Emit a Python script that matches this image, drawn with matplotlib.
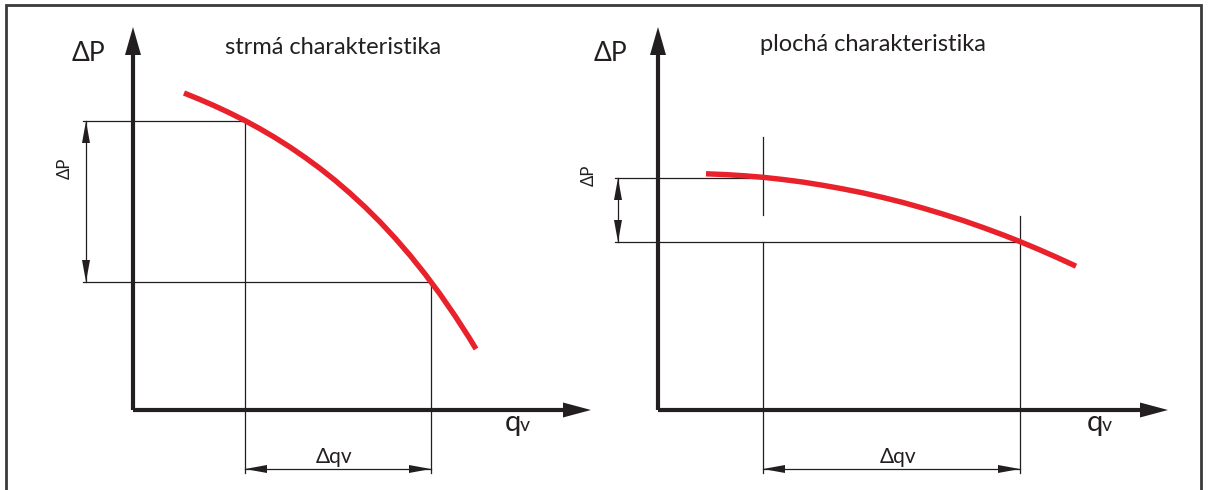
import numpy as np
import matplotlib.pyplot as plt
from matplotlib.patches import Rectangle, Polygon

plt.rcParams['font.family'] = ['Lato', 'DejaVu Sans']

# units = pixels from each panel's origin
# q = flow to the right, dp = pressure upward
steep_q = [51, 66, 81, 96, 112, 127, 142, 157, 172, 187, 202, 217, 232,
           247, 262, 277, 292, 307, 322, 336, 343]
steep_dp = [317.0, 310.9, 304.4, 297.4, 289.4, 281.2, 272.4, 262.9, 252.6, 241.6, 229.7,
            216.8, 203.0, 188.1, 172.0, 154.7, 136.0, 115.9, 94.2, 72.5, 61.0]
steep_pts = [(112, 289), (298, 128)]

flat_q = [48, 68, 88, 105, 125, 145, 165, 185, 205, 225, 245, 265, 285,
          305, 325, 345, 362, 380, 400, 418]
flat_dp = [236.2, 235.4, 234.1, 232.7, 230.5, 227.9, 224.7, 221.1, 217.1, 212.5, 207.5,
           201.9, 195.9, 189.5, 182.5, 175.1, 168.4, 160.9, 152.1, 143.8]
flat_pts = [(105, 232), (362, 168)]

titles = ["strmá charakteristika", "plochá charakteristika"]

RED = "#e8212b"
INK = "#231f20"

fig = plt.figure(figsize=(12.08, 4.9), dpi=100)


def head(ax, tip, direction, length, half):
    # filled triangular arrow head
    d = np.array(direction, float)
    n = np.array([-d[1], d[0]])
    tip = np.array(tip, float)
    base = tip - d * length
    ax.add_patch(Polygon([tip, base + n * half, base - n * half],
                         closed=True, color=INK, lw=0))


def panel(ax, q, dp, pts, title, x_tip, dim_x, line_x0, title_pos, dp_lab, dqv_x, qv_x,
          gap=None, v1_top=None):
    ax.set_aspect('equal')
    ax.axis('off')
    # axes with arrows
    ax.plot([0, 0], [0, 356], color=INK, lw=3, solid_capstyle='butt')
    ax.plot([0, x_tip - 27], [0, 0], color=INK, lw=3, solid_capstyle='butt')
    head(ax, (0, 383), (0, 1), 28, 8)
    head(ax, (x_tip, 0), (1, 0), 28, 7.5)

    (q1, p1), (q2, p2) = pts
    # guide lines
    ax.plot([line_x0, q1], [p1, p1], color=INK, lw=0.9)
    ax.plot([line_x0, q2], [p2, p2], color=INK, lw=0.9)
    if gap is None:
        ax.plot([q1, q1], [-63, p1], color=INK, lw=0.9)
    else:
        ax.plot([q1, q1], [-63, gap[0]], color=INK, lw=0.9)
        ax.plot([q1, q1], [gap[1], v1_top], color=INK, lw=0.9)
    ax.plot([q2, q2], [-63, p2 + (26 if gap is not None else 0)], color=INK, lw=0.9)

    # dimension arrows
    ax.plot([dim_x, dim_x], [p2, p1], color=INK, lw=0.9)
    head(ax, (dim_x, p1), (0, 1), 22, 4)
    head(ax, (dim_x, p2), (0, -1), 22, 4)
    ax.plot([q1, q2], [-59, -59], color=INK, lw=0.9)
    head(ax, (q1, -59), (-1, 0), 22, 4)
    head(ax, (q2, -59), (1, 0), 22, 4)

    # curve
    ax.plot(q, dp, color=RED, lw=3.9, solid_capstyle='butt', solid_joinstyle='round')

    # texts
    ax.text(title_pos[0], title_pos[1], title, fontsize=17, color=INK,
            ha='center', va='center')
    ax.text(title_pos[2], 356, "ΔP", fontsize=19, color=INK, ha='center', va='center')
    ax.text(dp_lab[0], dp_lab[1], "ΔP", fontsize=12, color=INK, rotation=90,
            ha='center', va='center')
    ax.text(dqv_x, -47, "Δqv", fontsize=15, color=INK, ha='center', va='center')
    ax.text(qv_x, -21, "q", fontsize=21, color=INK, ha='left', va='baseline')
    ax.text(qv_x + 15, -21, "v", fontsize=14, color=INK, ha='left', va='baseline')


# left panel: figure px 0..604, origin at (133, 410)
axL = fig.add_axes([0, 0, 604 / 1208, 1])
axL.set_xlim(-133, 604 - 133)
axL.set_ylim(-80, 410)
panel(axL, steep_q, steep_dp, steep_pts, titles[0], x_tip=458, dim_x=-47, line_x0=-50,
      title_pos=(200, 362, -45), dp_lab=(-68, 242), dqv_x=201, qv_x=372)

# right panel: figure px 604..1208, origin at (658, 410)
axR = fig.add_axes([604 / 1208, 0, 604 / 1208, 1])
axR.set_xlim(604 - 658, 1208 - 658)
axR.set_ylim(-80, 410)
panel(axR, flat_q, flat_dp, flat_pts, titles[1], x_tip=510, dim_x=-40, line_x0=-43,
      title_pos=(215, 365, -48), dp_lab=(-69, 235), dqv_x=240, qv_x=429,
      gap=(168, 195), v1_top=273)

# frame round the whole picture
fig.add_artist(Rectangle((6 / 1208, -0.1), (1201 - 6) / 1208, 1.1 - 5 / 490,
                         transform=fig.transFigure, fill=False, ec="#3a3a3a", lw=2))

fig.savefig("out.png", dpi=100)
